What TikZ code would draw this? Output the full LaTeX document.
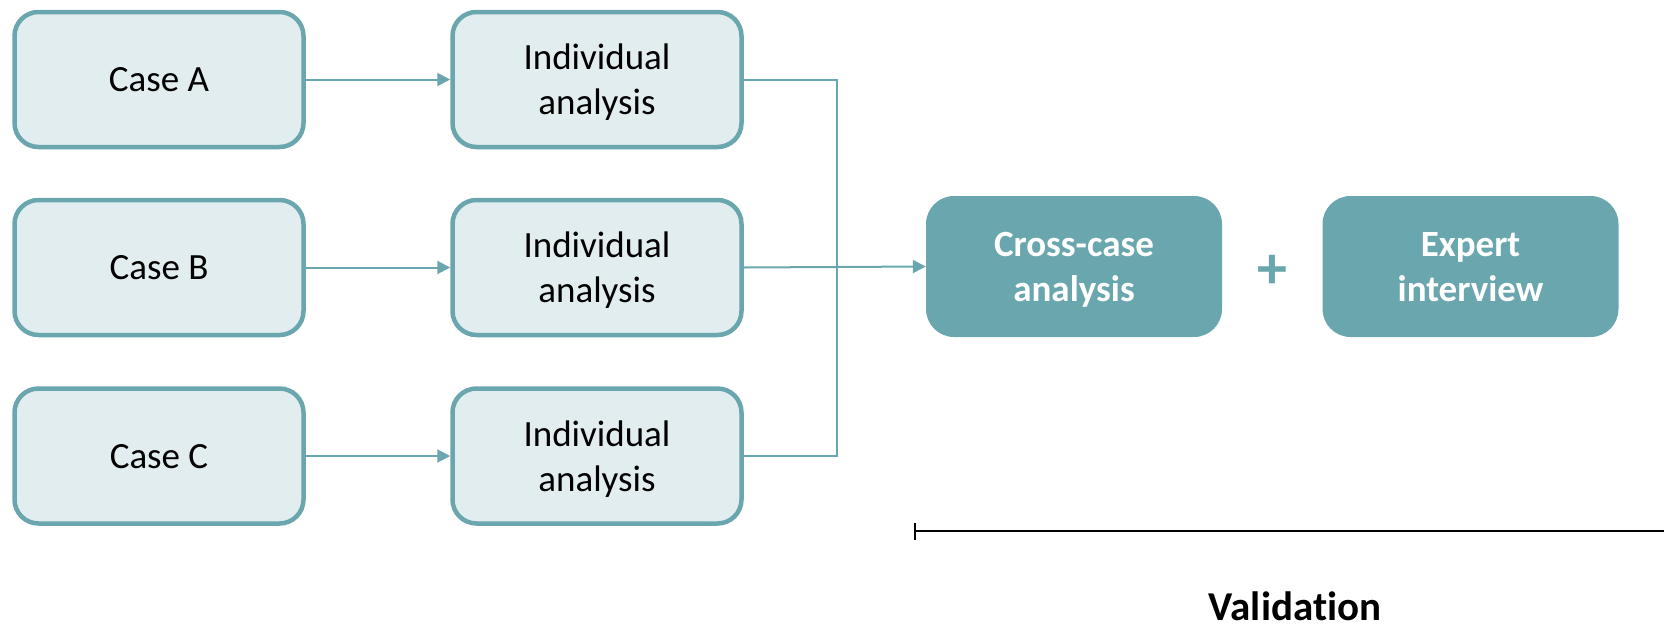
\documentclass[tikz,border=0pt]{standalone}
\usepackage{fontspec}
\setmainfont{Carlito}[RawFeature=-liga]
\usetikzlibrary{arrows.meta}
\definecolor{teal1}{HTML}{6AA6AD}
\definecolor{lightfill}{HTML}{E1EDEF}
\tikzset{
  casebox/.style={draw=teal1, fill=lightfill, line width=4.5pt, rounded corners=24pt,
    minimum width=289pt, minimum height=135pt, align=center, text depth=0pt,
    font=\fontsize{37}{45}\selectfont, text=black},
  darkbox/.style={fill=teal1, rounded corners=28pt,
    minimum width=296pt, minimum height=141pt, align=center, text depth=0pt,
    font=\fontsize{37}{45}\selectfont\bfseries, text=white},
  link/.style={draw=teal1, line width=2pt},
  flow/.style={link, -{Triangle[length=13pt,width=13pt]}},
}
\begin{document}
\begin{tikzpicture}[x=1pt,y=-1pt]
  \useasboundingbox (0,0) rectangle (1664,627);

  % inputs
  \node[casebox] (ca) at (159,79.5) {Case A};
  \node[casebox] (cb) at (159,267.5) {Case B};
  \node[casebox] (cc) at (159,456) {Case C};

  % individual analyses
  \node[casebox] (ia) at (597,79.5) {Individual\\analysis};
  \node[casebox] (ib) at (597,267.5) {Individual\\analysis};
  \node[casebox] (ic) at (597,456) {Individual\\analysis};

  % synthesis
  \node[darkbox] (cross) at (1074,266.5) {Cross-case\\analysis};
  \node[darkbox] (expert) at (1470.5,266.5) {Expert\\interview};
  \node[font=\fontsize{60}{60}\selectfont\bfseries, text=teal1] (plus) at (1272,272) {+};

  % connectors
  \draw[flow] (ca) -- (ia);
  \draw[flow] (cb) -- (ib);
  \draw[flow] (cc) -- (ic);
  \coordinate (bus) at (837,267.5);
  \draw[link] (ia.east) -| (bus);
  \draw[link] (ic.east) -| (bus);
  \draw[flow] (ib.east) -- (cross.west);

  % validation span
  \coordinate (vstart) at (914,531);
  \coordinate (vend) at (1664,531);
  \draw[line width=2pt, {Bar[width=17pt]}-] (vstart) -- (vend);
  \node[anchor=base, font=\fontsize{41}{45}\selectfont\bfseries] (valid) at (1295,620) {Validation};
\end{tikzpicture}
\end{document}
